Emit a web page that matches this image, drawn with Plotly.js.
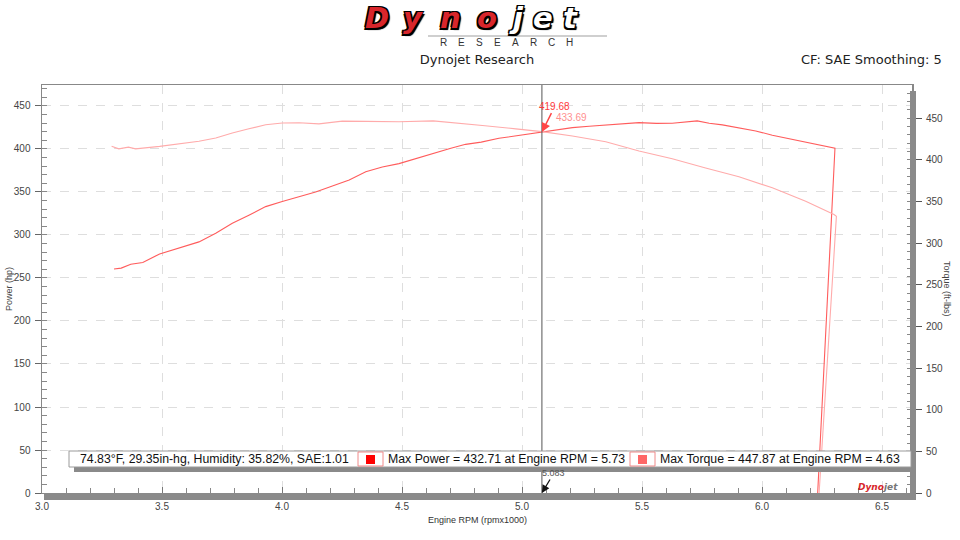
<!DOCTYPE html>
<html>
<head>
<meta charset="utf-8">
<script src="https://cdn.plot.ly/plotly-3.0.1.min.js"></script>
<style>html,body{margin:0;padding:0;background:#fff;}#chart{width:960px;height:540px;}</style>
</head>
<body>
<div id="chart"></div>
<script>
// ---- data ----
const rpmPower = [3.30, 3.33, 3.37, 3.42, 3.49, 3.585, 3.654, 3.724, 3.793, 3.862, 3.932, 4.001, 4.071, 4.14, 4.21, 4.28, 4.349, 4.418, 4.4875, 4.56, 4.626, 4.70, 4.765, 4.83, 4.904, 4.99, 5.083, 5.14, 5.21, 5.28, 5.349, 5.42, 5.4875, 5.56, 5.626, 5.73, 5.78, 5.835, 5.904, 5.974, 6.043, 6.1125, 6.182, 6.251, 6.304, 6.232];
const powerHp  = [260.5, 261.5, 266, 268, 278, 286, 292, 302, 313.6, 323, 333, 339, 344.5, 350, 357, 364, 373.6, 379, 383, 389, 395, 400.5, 405.4, 408, 412.4, 416, 419.68, 422, 424.8, 426.5, 428, 429.5, 430.6, 429.8, 430, 432.71, 430, 428, 424.8, 421, 416, 412, 408.5, 404.6, 400.8, 0];
const rpmTorque = [3.29, 3.32, 3.36, 3.39, 3.49, 3.585, 3.654, 3.724, 3.793, 3.862, 3.932, 4.001, 4.071, 4.154, 4.251, 4.349, 4.4875, 4.63, 4.696, 4.835, 4.974, 5.083, 5.21, 5.349, 5.4875, 5.626, 5.765, 5.904, 6.043, 6.182, 6.30, 6.31, 6.238];
const torqueFtLb = [416, 413, 415, 413, 416, 419.5, 422, 426, 432, 437, 442, 444, 444.3, 443, 446.3, 446, 445.5, 446.6, 445, 441, 437, 433.69, 428.3, 421.5, 410.3, 401, 390, 379.4, 366.2, 350.2, 334.1, 332, 0];
const cursorRpm = 5.083;
const cursorPower = 419.68;
const cursorTorque = 433.69;
const xTickVals = [3.0, 3.5, 4.0, 4.5, 5.0, 5.5, 6.0, 6.5];
const xTickText = ['3.0', '3.5', '4.0', '4.5', '5.0', '5.5', '6.0', '6.5'];
const conditionsText = '74.83°F, 29.35in-hg, Humidity: 35.82%, SAE:1.01';
const maxPowerText = 'Max Power = 432.71 at Engine RPM = 5.73';
const maxTorqueText = 'Max Torque = 447.87 at Engine RPM = 4.63';
const titleText = 'Dynojet Research';
const cfText = 'CF: SAE Smoothing: 5';
const logoLetters = ['D', 'y', 'n', 'o', 'j', 'e', 't'];
const researchLetters = ['R', 'E', 'S', 'E', 'A', 'R', 'C', 'H'];

// ---- layout helpers (pixel -> paper) ----
const L = 42, R = 912, T = 85, B = 493;
const W = R - L, H = B - T;
const px = x => (x - L) / W;
const py = y => (B - y) / H;
const FONT = 'Liberation Sans, Arial, sans-serif';
const powerColor = '#ff5c5c';
const torqueColor = '#ffabab';

const traces = [
  {x: rpmPower, y: powerHp, type: 'scatter', mode: 'lines', name: 'Power',
   line: {color: powerColor, width: 1.1}, hoverinfo: 'skip'},
  {x: rpmTorque, y: torqueFtLb, type: 'scatter', mode: 'lines', name: 'Torque', yaxis: 'y2',
   line: {color: torqueColor, width: 1.1}, hoverinfo: 'skip'}
];

const outline = '-1.5px -1.5px 0 #000, 1.5px -1.5px 0 #000, -1.5px 1.5px 0 #000, 1.5px 1.5px 0 #000, 2px 2px 1px #000';
const logoX = [377, 413, 450, 487, 516, 543, 570];
const annotations = [];
logoLetters.forEach((ch, i) => {
  annotations.push({xref: 'paper', yref: 'paper', x: px(logoX[i]), y: py(18), text: '<b><i>' + ch + '</i></b>',
    showarrow: false, xanchor: 'center', yanchor: 'middle',
    font: {family: 'DejaVu Sans', size: 29, color: i < 4 ? '#d8262b' : '#ffffff', shadow: outline}});
});
researchLetters.forEach((ch, i) => {
  annotations.push({xref: 'paper', yref: 'paper', x: px(443 + i * 18.1), y: py(43), text: ch,
    showarrow: false, xanchor: 'center', yanchor: 'middle', font: {family: FONT, size: 10, color: '#333'}});
});
annotations.push(
  {xref: 'paper', yref: 'paper', x: px(944), y: py(59), text: cfText, showarrow: false, xanchor: 'right', yanchor: 'middle',
   font: {family: 'DejaVu Sans', size: 13, color: '#222'}},
  {xref: 'paper', yref: 'paper', x: px(9), y: py(289), text: 'Power (hp)', textangle: -90, showarrow: false,
   xanchor: 'center', yanchor: 'middle', font: {family: FONT, size: 9, color: '#444'}},
  {xref: 'paper', yref: 'paper', x: px(947), y: py(289), text: 'Torque (ft-lbs)', textangle: 90, showarrow: false,
   xanchor: 'center', yanchor: 'middle', font: {family: FONT, size: 9, color: '#444'}},
  {xref: 'paper', yref: 'paper', x: px(478), y: py(520), text: 'Engine RPM (rpmx1000)', showarrow: false,
   xanchor: 'center', yanchor: 'middle', font: {family: FONT, size: 9, color: '#333'}},
  // cursor readouts
  {x: cursorRpm, y: cursorPower, xref: 'x', yref: 'y', text: cursorPower.toFixed(2), showarrow: true,
   arrowhead: 2, arrowsize: 1.2, arrowwidth: 1.5, arrowcolor: '#ff4545', ax: 13, ay: -26, standoff: 0,
   font: {family: FONT, size: 10, color: '#ff3b3b'}},
  {x: cursorRpm, y: cursorTorque, xref: 'x', yref: 'y2', text: cursorTorque.toFixed(2), showarrow: false,
   xshift: 30, yshift: 14, font: {family: FONT, size: 10, color: '#ff8f8f'}},
  {x: cursorRpm, y: 0, xref: 'x', yref: 'y', text: cursorRpm.toFixed(3), showarrow: true,
   arrowhead: 2, arrowsize: 1.2, arrowwidth: 1.3, arrowcolor: '#111', ax: 12, ay: -20, standoff: 0,
   font: {family: FONT, size: 9, color: '#555'}},
  // legend-like info box
  {xref: 'paper', yref: 'paper', x: px(78), y: py(459), text: conditionsText, showarrow: false, xanchor: 'left', yanchor: 'middle',
   font: {family: FONT, size: 12.3, color: '#111'}},
  {xref: 'paper', yref: 'paper', x: px(386), y: py(459), text: maxPowerText, showarrow: false, xanchor: 'left', yanchor: 'middle',
   font: {family: FONT, size: 12.3, color: '#111'}},
  {xref: 'paper', yref: 'paper', x: px(658), y: py(459), text: maxTorqueText, showarrow: false, xanchor: 'left', yanchor: 'middle',
   font: {family: FONT, size: 12.3, color: '#111'}},
  // small logo bottom-right
  {xref: 'paper', yref: 'paper', x: px(878), y: py(487), text: '<b><i><span style="color:#d8262b">Dyno</span><span style="color:#777">jet</span></i></b>',
   showarrow: false, xanchor: 'center', yanchor: 'middle', font: {family: 'DejaVu Sans', size: 9, color: '#d8262b'}}
);

const shapes = [
  // plot frame shadow (right & bottom bars)
  {type: 'rect', xref: 'paper', yref: 'paper', x0: px(L + 2), x1: px(R + 4), y0: py(B), y1: py(B + 7), fillcolor: '#8a8a8a', line: {width: 0}, layer: 'above'},
  {type: 'rect', xref: 'paper', yref: 'paper', x0: px(R - 2), x1: px(R + 4), y0: py(91), y1: py(B + 7), fillcolor: '#8a8a8a', line: {width: 0}, layer: 'above'},
  // cursor line
  {type: 'line', xref: 'x', yref: 'paper', x0: cursorRpm, x1: cursorRpm, y0: 0, y1: 1, line: {color: '#555', width: 1}, layer: 'above'},
  // info box shadow and box
  {type: 'rect', xref: 'paper', yref: 'paper', x0: px(74), x1: px(915), y0: py(455), y1: py(472), fillcolor: '#8a8a8a', line: {width: 0}, layer: 'above'},
  {type: 'rect', xref: 'paper', yref: 'paper', x0: px(69), x1: px(911), y0: py(451), y1: py(467), fillcolor: '#ffffff', line: {color: '#9a9a9a', width: 1}, layer: 'above'},
  {type: 'rect', xref: 'paper', yref: 'paper', x0: px(358), x1: px(383), y0: py(452), y1: py(466), fillcolor: '#ffffff', line: {color: '#f08a8a', width: 1}, layer: 'above'},
  {type: 'rect', xref: 'paper', yref: 'paper', x0: px(366), x1: px(375), y0: py(455), y1: py(464), fillcolor: '#ff0000', line: {width: 0}, layer: 'above'},
  {type: 'rect', xref: 'paper', yref: 'paper', x0: px(630), x1: px(655), y0: py(452), y1: py(466), fillcolor: '#ffffff', line: {color: '#f08a8a', width: 1}, layer: 'above'},
  {type: 'rect', xref: 'paper', yref: 'paper', x0: px(638), x1: px(647), y0: py(455), y1: py(464), fillcolor: '#ff6666', line: {width: 0}, layer: 'above'},
  // line under logo
  {type: 'line', xref: 'paper', yref: 'paper', x0: px(428), x1: px(607), y0: py(36), y1: py(36), line: {color: '#cfcfcf', width: 2}}
];

const layout = {
  width: 960, height: 540,
  margin: {l: L, r: 960 - R, t: T, b: 540 - B, pad: 0},
  paper_bgcolor: '#ffffff', plot_bgcolor: '#ffffff',
  showlegend: false,
  font: {family: FONT, size: 10, color: '#444'},
  title: {text: titleText, x: 0.5, xanchor: 'center', xref: 'paper', y: 1 - 59 / 540, yanchor: 'middle', yref: 'container',
          font: {family: 'DejaVu Sans', size: 13, color: '#222'}},
  xaxis: {range: [3.0, 6.625], tickvals: xTickVals, ticktext: xTickText, ticks: 'inside', ticklen: 6, tickcolor: '#777',
          showgrid: true, gridcolor: '#dedede', griddash: 'dash', gridwidth: 1, zeroline: false,
          showline: true, linecolor: '#888', linewidth: 1, mirror: true,
          ticklabelstandoff: 4, tickfont: {family: FONT, size: 10, color: '#444'},
          minor: {dtick: 0.1, tick0: 3.0, ticks: 'inside', ticklen: 5, tickcolor: '#888', showgrid: false}},
  yaxis: {range: [0, 474.4], dtick: 50, tick0: 0, ticks: 'outside', ticklen: 6, tickcolor: '#666',
          showgrid: true, gridcolor: '#dedede', griddash: 'dash', gridwidth: 1, zeroline: false,
          showline: true, linecolor: '#888', linewidth: 1.5, mirror: true,
          ticklabelstandoff: 2, tickfont: {family: FONT, size: 10, color: '#444'},
          minor: {dtick: 10, ticks: 'inside', ticklen: 5, tickcolor: '#888', showgrid: false}},
  yaxis2: {range: [0, 489.6], dtick: 50, tick0: 0, overlaying: 'y', side: 'right', ticks: 'outside', ticklen: 9, tickcolor: '#555',
           showgrid: false, zeroline: false, showline: false,
           ticklabelstandoff: 2, tickfont: {family: FONT, size: 10, color: '#444'},
           minor: {dtick: 10, ticks: 'inside', ticklen: 5, tickcolor: '#888', showgrid: false}},
  shapes: shapes,
  annotations: annotations
};

Plotly.newPlot('chart', traces, layout, {staticPlot: true, displayModeBar: false});
</script>
</body>
</html>
